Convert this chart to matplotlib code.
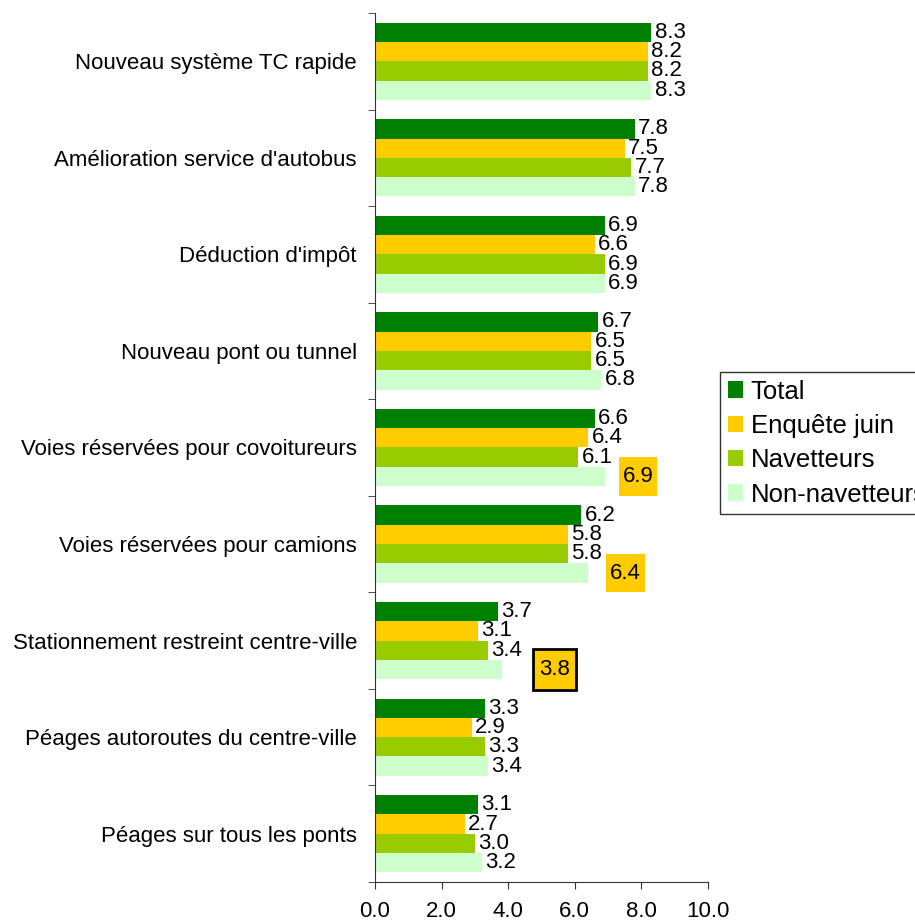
import matplotlib.pyplot as plt
from matplotlib.patches import Rectangle
import numpy as np

plt.rcParams['font.family'] = ['Liberation Sans', 'DejaVu Sans']

categories = ["Nouveau système TC rapide", "Amélioration service d'autobus",
              "Déduction d'impôt", "Nouveau pont ou tunnel",
              "Voies réservées pour covoitureurs", "Voies réservées pour camions",
              "Stationnement restreint centre-ville", "Péages autoroutes du centre-ville",
              "Péages sur tous les ponts"]
series_names = ["Total", "Enquête juin", "Navetteurs", "Non-navetteurs"]
total = [8.3, 7.8, 6.9, 6.7, 6.6, 6.2, 3.7, 3.3, 3.1]
enquete = [8.2, 7.5, 6.6, 6.5, 6.4, 5.8, 3.1, 2.9, 2.7]
navetteurs = [8.2, 7.7, 6.9, 6.5, 6.1, 5.8, 3.4, 3.3, 3.0]
non_navetteurs = [8.3, 7.8, 6.9, 6.8, 6.9, 6.4, 3.8, 3.4, 3.2]
colors = ["#008000", "#FFCC00", "#99CC00", "#CCFFCC"]
xticks = [0, 2, 4, 6, 8, 10]

# Non-navetteurs labels shown in a gold box: index -> (gap, width, height, border)
highlight = {4: (0.42, 1.15, 0.40, False),
             5: (0.54, 1.17, 0.40, False),
             6: (0.95, 1.30, 0.42, True)}

FS = 16

fig = plt.figure(figsize=(9.15, 9.22), dpi=100)
ax = fig.add_axes([0.4098, 0.0434, 0.3640, 0.9425])

y = np.arange(len(categories))
h = 0.2
all_series = [total, enquete, navetteurs, non_navetteurs]
for k, vals in enumerate(all_series):
    pos = y - 0.3 + k * h
    ax.barh(pos, vals, height=h, color=colors[k], label=series_names[k])
    for i, v in enumerate(vals):
        if k == 3 and i in highlight:
            gap, bw, bh, border = highlight[i]
            x0 = v + gap
            ax.add_patch(Rectangle((x0, pos[i] - bh / 2), bw, bh, facecolor='#FFCC00',
                                   edgecolor='black' if border else 'none',
                                   lw=2 if border else 0, clip_on=False, zorder=3))
            ax.text(x0 + bw / 2, pos[i], "%.1f" % v, fontsize=FS, va='center',
                    ha='center', zorder=4)
        else:
            ax.text(v + 0.1, pos[i], "%.1f" % v, fontsize=FS, va='center', ha='left')

ax.set_xlim(0, 10)
ax.set_ylim(len(categories) - 0.5, -0.5)
ax.set_xticks(xticks)
ax.set_xticklabels(["%.1f" % t for t in xticks], fontsize=FS)
ax.set_yticks(y)
ax.set_yticklabels(categories, fontsize=FS)
ax.set_yticks(np.arange(-0.5, len(categories)), minor=True)
ax.tick_params(axis='y', which='major', length=0, pad=13)
ax.tick_params(axis='y', which='minor', length=5, direction='out', color='#333333')
ax.tick_params(axis='x', length=5, direction='out', pad=9, color='#333333')
for s in ['top', 'right']:
    ax.spines[s].set_visible(False)
for s in ['left', 'bottom']:
    ax.spines[s].set_color('#333333')

leg = fig.legend(loc='upper left', bbox_to_anchor=(720 / 915, 1 - 372 / 922), fontsize=18.5,
                 frameon=True, fancybox=False, edgecolor='black', handlelength=0.6,
                 handleheight=0.6, handletextpad=0.3, labelspacing=0.4, borderpad=0.3,
                 borderaxespad=0)
leg.get_frame().set_linewidth(1)

fig.savefig("out.png", dpi=100)
